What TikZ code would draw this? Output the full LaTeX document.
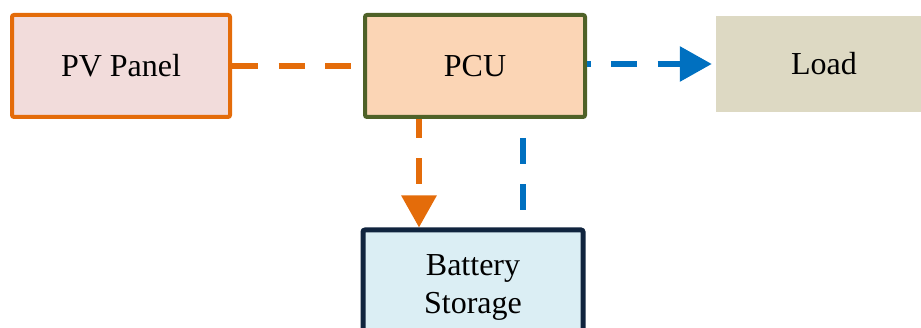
\documentclass[tikz,border=0pt]{standalone}
\usepackage{fontspec}
\setmainfont{Liberation Serif}
\usetikzlibrary{arrows.meta}
\definecolor{orangeL}{HTML}{E46C0A}
\definecolor{pvfill}{HTML}{F2DCDB}
\definecolor{pcudraw}{HTML}{4F6228}
\definecolor{pcufill}{HTML}{FBD5B5}
\definecolor{loadfill}{HTML}{DDD9C3}
\definecolor{batdraw}{HTML}{10243E}
\definecolor{batfill}{HTML}{DBEEF4}
\definecolor{blueL}{HTML}{0070C0}
\tikzset{
  box/.style={rectangle, rounded corners=2pt, inner sep=0pt, align=center,
    font=\fontsize{32}{38}\selectfont},
  flow/.style={line width=6pt, dash pattern=on 26pt off 20.5pt},
  bigtip/.style={-{Triangle[length=32pt,width=34pt]}}
}
\begin{document}
\begin{tikzpicture}[x=1pt,y=-1pt]
\useasboundingbox (0,0) rectangle (921,328);
\node[box, draw=orangeL, fill=pvfill, line width=4pt, minimum width=218pt, minimum height=102pt] (pv) at (121,66) {PV Panel};
\node[box, draw=pcudraw, fill=pcufill, line width=4pt, minimum width=220pt, minimum height=102pt] (pcu) at (475,66) {PCU};
\node[box, rounded corners=0pt, fill=loadfill, minimum width=216pt, minimum height=96pt] (load) at (824,64) {Load};
\node[box, draw=batdraw, fill=batfill, line width=5pt, minimum width=220pt, minimum height=114pt] (bat) at (473,287) {Battery\\Storage};
\coordinate (ox) at (419,0);
\coordinate (bx) at (523,0);
\draw[flow, orangeL] (pv.east) -- (pcu.west);
\draw[flow, blueL, bigtip, dash phase=22.5pt, shorten >=4pt] ([yshift=2pt]pcu.east) -- (load.west);
\draw[flow, orangeL, bigtip, dash phase=7pt] (ox |- pcu.south) -- (ox |- bat.north);
\draw[flow, blueL, dash phase=27.5pt] (bx |- pcu.south) -- (bx |- bat.north);
\end{tikzpicture}
\end{document}
